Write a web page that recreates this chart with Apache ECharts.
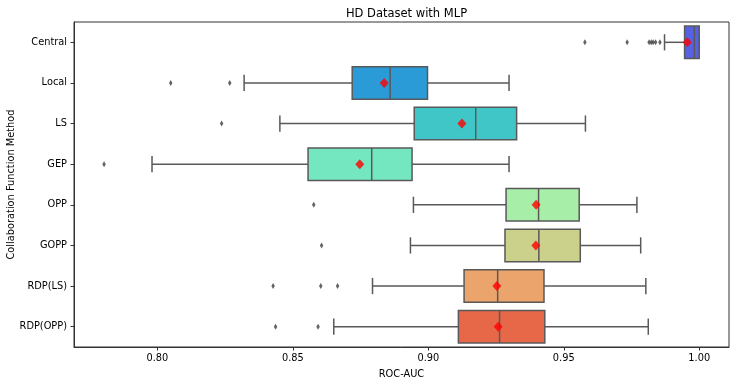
<!DOCTYPE html>
<html>
<head>
<meta charset="utf-8">
<script src="https://cdn.jsdelivr.net/npm/echarts@6/dist/echarts.min.js"></script>
<style>
html,body{margin:0;padding:0;background:#fff;}
#chart{width:736px;height:384px;}
</style>
</head>
<body>
<div id="chart"></div>
<script>
const categories = ['Central','Local','LS','GEP','OPP','GOPP','RDP(LS)','RDP(OPP)'];
const whiskerLow = [0.9872, 0.8320, 0.8452, 0.7980, 0.8945, 0.8934, 0.8794, 0.8651];
const q1Values   = [0.9946, 0.8719, 0.8948, 0.8556, 0.9287, 0.9283, 0.9132, 0.9111];
const medians    = [0.9982, 0.8859, 0.9175, 0.8791, 0.9407, 0.9408, 0.9256, 0.9263];
const q3Values   = [1.0000, 0.8997, 0.9326, 0.8940, 0.9557, 0.9561, 0.9427, 0.9430];
const whiskerHigh= [1.0000, 0.9298, 0.9580, 0.9298, 0.9770, 0.9784, 0.9803, 0.9812];
const means      = [0.9956, 0.8837, 0.9124, 0.8747, 0.9398, 0.9397, 0.9253, 0.9258];
const outliers   = [
  [0.9578, 0.9734, 0.9815, 0.9823, 0.9830, 0.9839, 0.9855],
  [0.8049, 0.8267],
  [0.8237],
  [0.7803],
  [0.8577],
  [0.8606],
  [0.8427, 0.8603, 0.8665],
  [0.8436, 0.8593]
];
const xTicks = [0.80, 0.85, 0.90, 0.95, 1.00];
const boxColors = ['#5961e3','#2b9bd7','#41c6c7','#74e7c0','#a7efa8','#cbd18b','#eba46c','#e66848'];

const edge = '#595959';
const font = 'DejaVu Sans';

const boxData = categories.map((c, i) => [i, whiskerLow[i], q1Values[i], medians[i], q3Values[i], whiskerHigh[i]]);
const outlierData = [];
outliers.forEach((arr, i) => arr.forEach(v => outlierData.push([v, i])));
const meanData = means.map((v, i) => [v, i]);

const chart = echarts.init(document.getElementById('chart'), null, {renderer: 'canvas'});
chart.setOption({
  animation: false,
  backgroundColor: '#fff',
  title: {
    text: 'HD Dataset with MLP',
    left: 401.5, top: 3, textAlign: 'center',
    textStyle: {fontFamily: font, fontSize: 11.5, fontWeight: 'normal', color: '#000'}
  },
  grid: {left: 74, right: 7, top: 22, bottom: 37, containLabel: false, outerBoundsMode: 'none',
    show: true, borderColor: '#333', borderWidth: 1, backgroundColor: 'transparent'},
  xAxis: {
    type: 'value', min: 0.7692, max: 1.011,
    name: 'ROC-AUC', nameLocation: 'middle', nameGap: 22,
    nameTextStyle: {fontFamily: font, fontSize: 9.8, color: '#000'},
    axisLine: {show: true, lineStyle: {color: '#333', width: 1}},
    axisTick: {show: true, length: 3.5, customValues: xTicks, lineStyle: {color: '#333'}},
    axisLabel: {customValues: xTicks, margin: 6, fontFamily: font, fontSize: 9.8, color: '#000',
      formatter: v => v.toFixed(2)},
    splitLine: {show: false}
  },
  yAxis: {
    type: 'category', data: categories, inverse: true,
    name: 'Collaboration Function Method', nameLocation: 'middle', nameGap: 58, nameRotate: 90,
    nameMoveOverlap: false,
    nameTextStyle: {fontFamily: font, fontSize: 9.8, color: '#000'},
    axisLine: {show: true, lineStyle: {color: '#333', width: 1}},
    axisTick: {show: true, alignWithLabel: true, length: 3.5, lineStyle: {color: '#333'}},
    axisLabel: {margin: 7, fontFamily: font, fontSize: 9.8, color: '#000'},
    splitLine: {show: false}
  },
  series: [
    {
      type: 'custom',
      data: boxData,
      encode: {x: [1, 2, 3, 4, 5], y: 0},
      z: 2,
      renderItem: function (params, api) {
        const ci = api.value(0);
        const band = api.size([0, 1])[1];
        const hb = band * 0.4, hc = band * 0.2;
        const y = api.coord([api.value(3), ci])[1];
        const xs = [1, 2, 3, 4, 5].map(k => api.coord([api.value(k), ci])[0]);
        const ls = {stroke: edge, lineWidth: 1.5};
        const children = [
          {type: 'line', shape: {x1: xs[0], y1: y, x2: xs[1], y2: y}, style: ls},
          {type: 'line', shape: {x1: xs[3], y1: y, x2: xs[4], y2: y}, style: ls},
          {type: 'line', shape: {x1: xs[0], y1: y - hc, x2: xs[0], y2: y + hc}, style: ls},
          {type: 'line', shape: {x1: xs[4], y1: y - hc, x2: xs[4], y2: y + hc}, style: ls},
          {type: 'rect', shape: {x: xs[1], y: y - hb, width: xs[3] - xs[1], height: 2 * hb},
            style: {fill: boxColors[ci], stroke: edge, lineWidth: 1.5}},
          {type: 'line', shape: {x1: xs[2], y1: y - hb, x2: xs[2], y2: y + hb}, style: ls}
        ];
        return {type: 'group', children: children};
      }
    },
    {
      type: 'scatter',
      data: outlierData,
      symbol: 'diamond', symbolSize: [3.5, 6],
      itemStyle: {color: '#3d3d3d'},
      z: 3
    },
    {
      type: 'scatter',
      data: meanData,
      symbol: 'diamond', symbolSize: [9, 10],
      itemStyle: {color: '#ff0000'},
      z: 4
    }
  ]
});
</script>
</body>
</html>
